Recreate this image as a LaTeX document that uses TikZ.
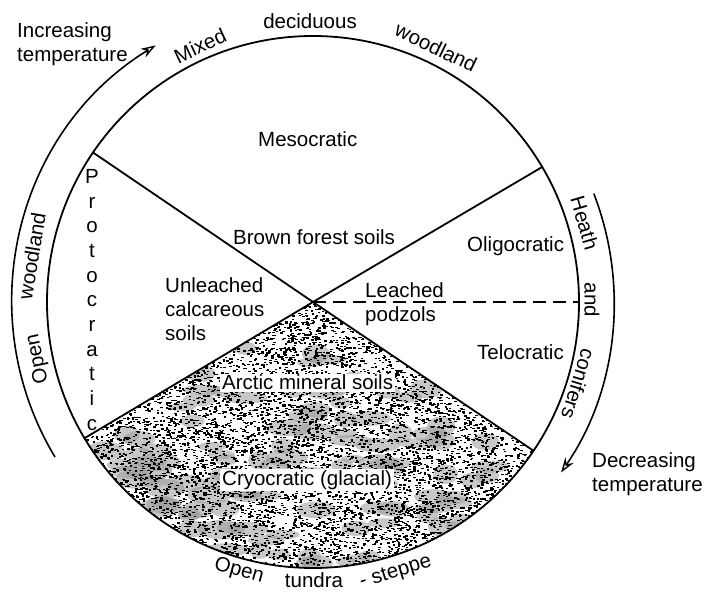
\documentclass[tikz,border=0pt]{standalone}
\usepackage{fontspec}
\setmainfont{Liberation Sans}
\usetikzlibrary{arrows.meta,calc}
\begin{document}
\begin{tikzpicture}[x=1pt,y=1pt,
  lbl/.style={inner sep=0pt, font=\fontsize{20.5}{23.5}\selectfont},
  whitelbl/.style={lbl, fill=white, inner xsep=2pt, inner ysep=1.5pt},
  ln/.style={line width=1.8pt},
  tarrow/.style={line width=1.6pt, -{Stealth[length=15pt,width=10pt,inset=5pt,open,line width=1.4pt]}},
  dashline/.style={line width=1.8pt, dash pattern=on 13pt off 7pt},
]
\useasboundingbox (0,0) rectangle (704,-593);
\coordinate (C) at (313,-302);
\coordinate (pUL) at ($(C)+(145.8:266)$);
\coordinate (pUR) at ($(C)+(30.5:266)$);
\coordinate (pLL) at ($(C)+(210.8:266)$);
\coordinate (pLR) at ($(C)+(326:266)$);
\coordinate (pR) at ($(C)+(0:266)$);
% stippled sector
\begin{scope}
\clip (C) -- (pLL) arc[start angle=210.8,end angle=326,radius=266] -- cycle;
\begin{scope}[shift={(313,-302)}]
\pgfmathsetseed{7}
\foreach \i in {1,...,110}{
  \pgfmathsetmacro\a{212+112*rnd}
  \pgfmathsetmacro\r{30+236*sqrt(rnd)}
  \pgfmathsetmacro\sx{10+14*rnd}
  \pgfmathsetmacro\sy{4+6*rnd}
  \fill[black!40,opacity=.55] (\a:\r) ellipse[x radius=\sx, y radius=\sy];
}
\foreach \i in {1,...,6500}{
  \pgfmathsetmacro\a{209+119*rnd}
  \pgfmathsetmacro\r{268*sqrt(rnd)}
  \fill (\a:\r) rectangle ++(2.4,1.4);
}
\end{scope}
\end{scope}
% circle and dividing lines
\draw[ln] (C) circle[radius=266];
\draw[ln] (pUL) -- (C) -- (pUR);
\draw[ln] (pLL) -- (C) -- (pLR);
\draw[dashline] (C) -- (pR);
% temperature arrows
\coordinate (aL1) at ($(C)+(211:301)$);
\coordinate (aR1) at ($(C)+(21.1:301)$);
\draw[tarrow] (aL1) arc[start angle=211,end angle=121.5,radius=301];
\draw[tarrow] (aR1) arc[start angle=21.1,end angle=-34.5,radius=301];
% labels inside
\node[lbl, anchor=base west] (meso) at (258,-147) {Mesocratic};
\node[lbl, anchor=base west] (brown) at (233,-245) {Brown forest soils};
\node[lbl, anchor=base west] (oligo) at (467,-252) {Oligocratic};
\node[lbl, anchor=base west] (telo) at (477,-360) {Telocratic};
\node[lbl, anchor=north west, align=left] (leach) at (365,-282.5) {Leached\\podzols};
\node[lbl, anchor=north west, align=left, font=\fontsize{20.5}{24.2}\selectfont] (unleach) at (165,-277.3) {Unleached\\calcareous\\soils};
\node[lbl, anchor=north, align=center, font=\fontsize{20.5}{24.7}\selectfont] (proto) at (92,-169) {P\\r\\o\\t\\o\\c\\r\\a\\t\\i\\c};
\node[whitelbl, anchor=base west] (arctic) at (220,-390) {Arctic mineral soils};
\node[whitelbl, anchor=base west] (cryo) at (220,-485) {Cryocratic (glacial)};
% labels outside
\node[lbl, anchor=north west, align=left] (inc) at (17,-22.5) {Increasing\\temperature};
\node[lbl, anchor=north west, align=left] (dec) at (592,-452.5) {Decreasing\\temperature};
\node[lbl, rotate=25] (mixed) at ($(C)+(113.8:280)$) {Mixed};
\node[lbl] (decid) at ($(C)+(90.6:281)$) {deciduous};
\node[lbl, rotate=-25.8] (wood1) at ($(C)+(64.2:283)$) {woodland};
\node[lbl, rotate=-73.8] (heath) at ($(C)+(16.2:283)$) {Heath};
\node[lbl, rotate=-90] (and) at ($(C)+(0.4:279)$) {and};
\node[lbl, rotate=-107.2] (conif) at ($(C)+(-17.2:278)$) {conifers};
\node[lbl, rotate=80.7] (wood2) at ($(C)+(170.7:285)$) {woodland};
\node[lbl, rotate=101.7] (open1) at ($(C)+(191.7:281)$) {Open};
\node[lbl, rotate=-15.4] (open2) at ($(C)+(254.6:279)$) {Open};
\node[lbl] (tundra) at ($(C)+(270.2:278)$) {tundra};
\node[lbl, rotate=17] (steppe) at ($(C)+(-73:283)$) {- steppe};
\end{tikzpicture}
\end{document}
